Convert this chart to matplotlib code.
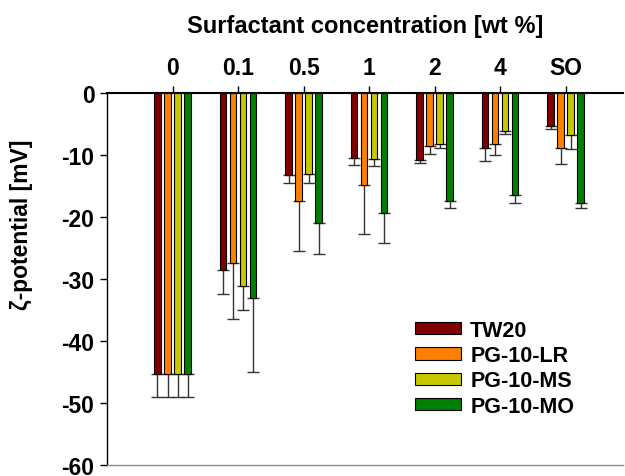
import numpy as np
import matplotlib.pyplot as plt

plt.rcParams['font.family'] = ['Liberation Sans', 'DejaVu Sans']
plt.rcParams['font.weight'] = 'bold'
plt.rcParams['axes.unicode_minus'] = False

# Data
categories = ['0', '0.1', '0.5', '1', '2', '4', 'SO']
series = ['TW20', 'PG-10-LR', 'PG-10-MS', 'PG-10-MO']
colors = ['#800000', '#FF8000', '#C8C800', '#008000']

tw20 = [-45.4, -28.5, -13.3, -10.5, -10.8, -8.8, -5.3]
lr = [-45.4, -27.4, -17.4, -14.8, -8.6, -8.3, -8.8]
ms = [-45.4, -31.2, -13.1, -10.6, -8.2, -6.2, -6.8]
mo = [-45.4, -33.0, -21.0, -19.4, -17.4, -16.4, -17.7]

tw20_err = [3.7, 3.9, 1.3, 1.1, 0.5, 2.2, 0.5]
lr_err = [3.7, 9.0, 8.1, 7.9, 1.2, 1.7, 2.7]
ms_err = [3.7, 3.8, 1.4, 1.2, 0.6, 0.4, 2.2]
mo_err = [3.7, 12.0, 4.9, 4.8, 1.1, 1.3, 0.8]

values = [tw20, lr, ms, mo]
errors = [tw20_err, lr_err, ms_err, mo_err]

fig = plt.figure(figsize=(6.25, 4.77), dpi=100)
ax = fig.add_axes([0.1712, 0.0231, 0.826, 0.7799])

x = np.arange(len(categories))
step = 0.153
width = 0.1
for i in range(len(series)):
    pos = x + (i - 1.5) * step
    ax.bar(pos, values[i], width, color=colors[i], edgecolor='black',
           linewidth=0.8, label=series[i], zorder=2)
    # one-sided error bars (downwards only)
    ax.errorbar(pos, values[i], yerr=[errors[i], np.zeros(len(categories))],
                fmt='none', ecolor='#333333', elinewidth=1.0, capsize=4,
                capthick=1.0, zorder=1)

ax.set_xlim(-1, 6.88)
ax.set_ylim(-60, 0)
ax.set_yticks(np.arange(-60, 1, 10))
ax.set_xticks(x)
ax.set_xticklabels(categories)

ax.xaxis.tick_top()
ax.xaxis.set_label_position('top')
ax.tick_params(axis='x', direction='out', length=5, width=1, labelsize=16.5, pad=5)
ax.tick_params(axis='y', direction='out', length=5, width=1, labelsize=16.5, pad=4)
for lbl in ax.get_xticklabels() + ax.get_yticklabels():
    lbl.set_fontweight('bold')

ax.set_xlabel('Surfactant concentration [wt %]', fontsize=17, fontweight='bold', labelpad=17)
ax.set_ylabel('ζ-potential [mV]', fontsize=16.5, fontweight='bold')
ax.yaxis.set_label_coords(-0.143, 0.648)

ax.spines['right'].set_visible(False)
ax.spines['top'].set_linewidth(1.5)
ax.spines['left'].set_linewidth(1.0)
ax.spines['bottom'].set_color('#888888')
ax.spines['bottom'].set_linewidth(1.0)

leg = ax.legend(loc='upper left', bbox_to_anchor=(0.568, 0.431), frameon=False,
                fontsize=15.5, handlelength=2.1, handleheight=0.5,
                labelspacing=0.2, handletextpad=0.45, borderpad=0.2)
for t in leg.get_texts():
    t.set_fontweight('bold')

fig.savefig('out.png', dpi=100)
